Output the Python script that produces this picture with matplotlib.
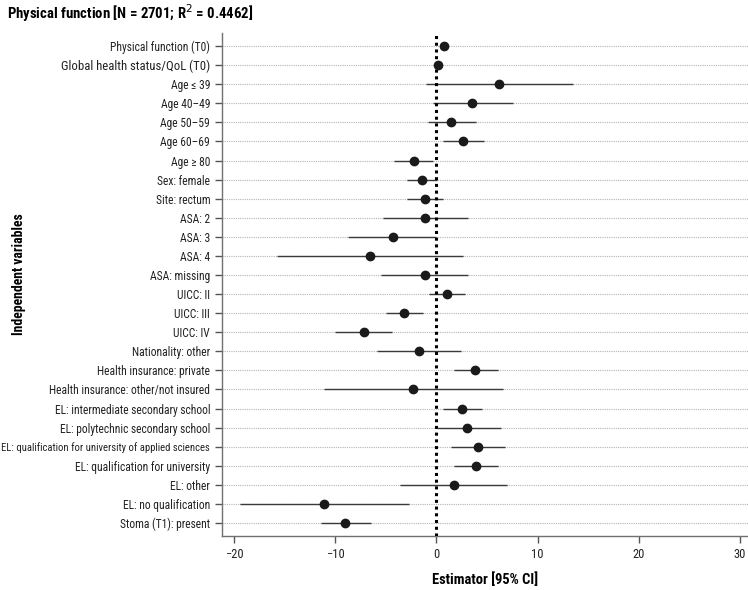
import matplotlib
matplotlib.use("Agg")
import matplotlib.pyplot as plt
from matplotlib import font_manager

# the reference uses a narrow sans; look for one, else fall back
fonts = font_manager.fontManager.ttflist
names = {f.name for f in fonts}
narrow = None
for cand in ["Liberation Sans Narrow", "Arial Narrow", "Roboto Condensed",
             "Open Sans Condensed", "Noto Sans Condensed", "DejaVu Sans Condensed"]:
    if cand in names:
        narrow = cand
        break
stretch = "normal"
if narrow is None:
    for f in fonts:
        if f.name in ("Noto Sans", "DejaVu Sans", "Open Sans") and "condensed" in str(f.stretch):
            narrow, stretch = f.name, f.stretch
            break
FAMILY = [narrow] if narrow else []
FAMILY += ["Liberation Sans", "DejaVu Sans"]
plt.rcParams["font.family"] = FAMILY
plt.rcParams["font.stretch"] = stretch

labels = [
    "Physical function (T0)",
    "Global health status/QoL (T0)",
    "Age \u2264 39",
    "Age 40\u201349",
    "Age 50\u201359",
    "Age 60\u201369",
    "Age \u2265 80",
    "Sex: female",
    "Site: rectum",
    "ASA: 2",
    "ASA: 3",
    "ASA: 4",
    "ASA: missing",
    "UICC: II",
    "UICC: III",
    "UICC: IV",
    "Nationality: other",
    "Health insurance: private",
    "Health insurance: other/not insured",
    "EL: intermediate secondary school",
    "EL: polytechnic secondary school",
    "EL: qualification for university of applied sciences",
    "EL: qualification for university",
    "EL: other",
    "EL: no qualification",
    "Stoma (T1): present",
]
estimate = [0.7, 0.15, 6.2, 3.55, 1.45, 2.6, -2.2, -1.4, -1.15, -1.1, -4.3, -6.6,
            -1.15, 1.0, -3.2, -7.2, -1.7, 3.85, -2.3, 2.5, 3.05, 4.1, 3.9, 1.7,
            -11.1, -9.05]
ci_low = [0.6, 0.05, -1.05, -0.3, -0.85, 0.65, -4.2, -2.9, -2.9, -5.25, -8.7, -15.8,
          -5.5, -0.75, -5.0, -10.0, -5.9, 1.7, -11.1, 0.6, 0.1, 1.45, 1.7, -3.6,
          -19.4, -11.4]
ci_high = [0.8, 0.25, 13.5, 7.55, 3.95, 4.75, -0.35, 0.05, 0.6, 3.1, -0.05, 2.6,
           3.1, 2.8, -1.3, -4.4, 2.4, 6.1, 6.6, 4.5, 6.4, 6.8, 6.1, 7.0,
           -2.7, -6.5]

TITLE = "Physical function [N = 2701; R$^2$ = 0.4462]"

fig = plt.figure(figsize=(7.48, 5.9), dpi=100)
renderer = fig.canvas.get_renderer()


def fit_size(text, target_px, max_size, weight="normal"):
    # size that makes the text as wide as in the reference
    t = fig.text(0, 0, text, fontsize=max_size, fontweight=weight)
    w = t.get_window_extent(renderer).width
    t.remove()
    return min(max_size, max_size * target_px / w)


lab_size = fit_size(labels[0], 100, 11)
long_size = min(lab_size, fit_size(labels[21], 207, 11))
title_size = fit_size(TITLE, 246, 13, "bold")
bold_size = fit_size("Estimator [95% CI]", 106, 12, "bold")

ax = fig.add_axes([0.2968, 0.0915, 0.7032, 0.8525])

ypos = list(range(len(labels)))
for y in ypos:
    ax.axhline(y, color="#b4b4b4", lw=0.8, ls=(0, (1, 1)), zorder=0)

ax.hlines(ypos, ci_low, ci_high, color="#3a3a3a", lw=1.0, zorder=2)
ax.axvline(0, color="black", lw=2.2, ls=(0, (1, 1.2)), zorder=3)
ax.plot(estimate, ypos, "o", color="#1a1a1a", ms=6, zorder=4)

ax.set_xlim(-21.2, 30.8)
ax.set_ylim(25.68, -0.68)
ax.set_xticks([-20, -10, 0, 10, 20, 30])
ax.set_xticklabels(["\u221220", "\u221210", "0", "10", "20", "30"])
ax.set_yticks(ypos)
ax.set_yticklabels(labels)

for s in ["top", "right"]:
    ax.spines[s].set_visible(False)
for s in ["left", "bottom"]:
    ax.spines[s].set_color("#707070")
    ax.spines[s].set_linewidth(1.0)
ax.tick_params(axis="both", colors="#555555", labelcolor="#222222", labelsize=lab_size,
               length=5, width=1.0)
ax.tick_params(axis="x", labelsize=lab_size * 1.08)
ax.get_yticklabels()[1].set_fontsize(lab_size * 1.1)
ax.get_yticklabels()[21].set_fontsize(long_size)

ax.set_xlabel("Estimator [95% CI]", fontsize=bold_size, fontweight="bold", labelpad=8)
fig.text(0.025, 0.535, "Independent variables", rotation=90, fontsize=bold_size * 0.95,
         fontweight="bold", va="center", ha="center")
fig.text(0.009, 0.978, TITLE, fontsize=title_size, fontweight="bold",
         va="center", ha="left")

fig.savefig("out.png", dpi=100)
